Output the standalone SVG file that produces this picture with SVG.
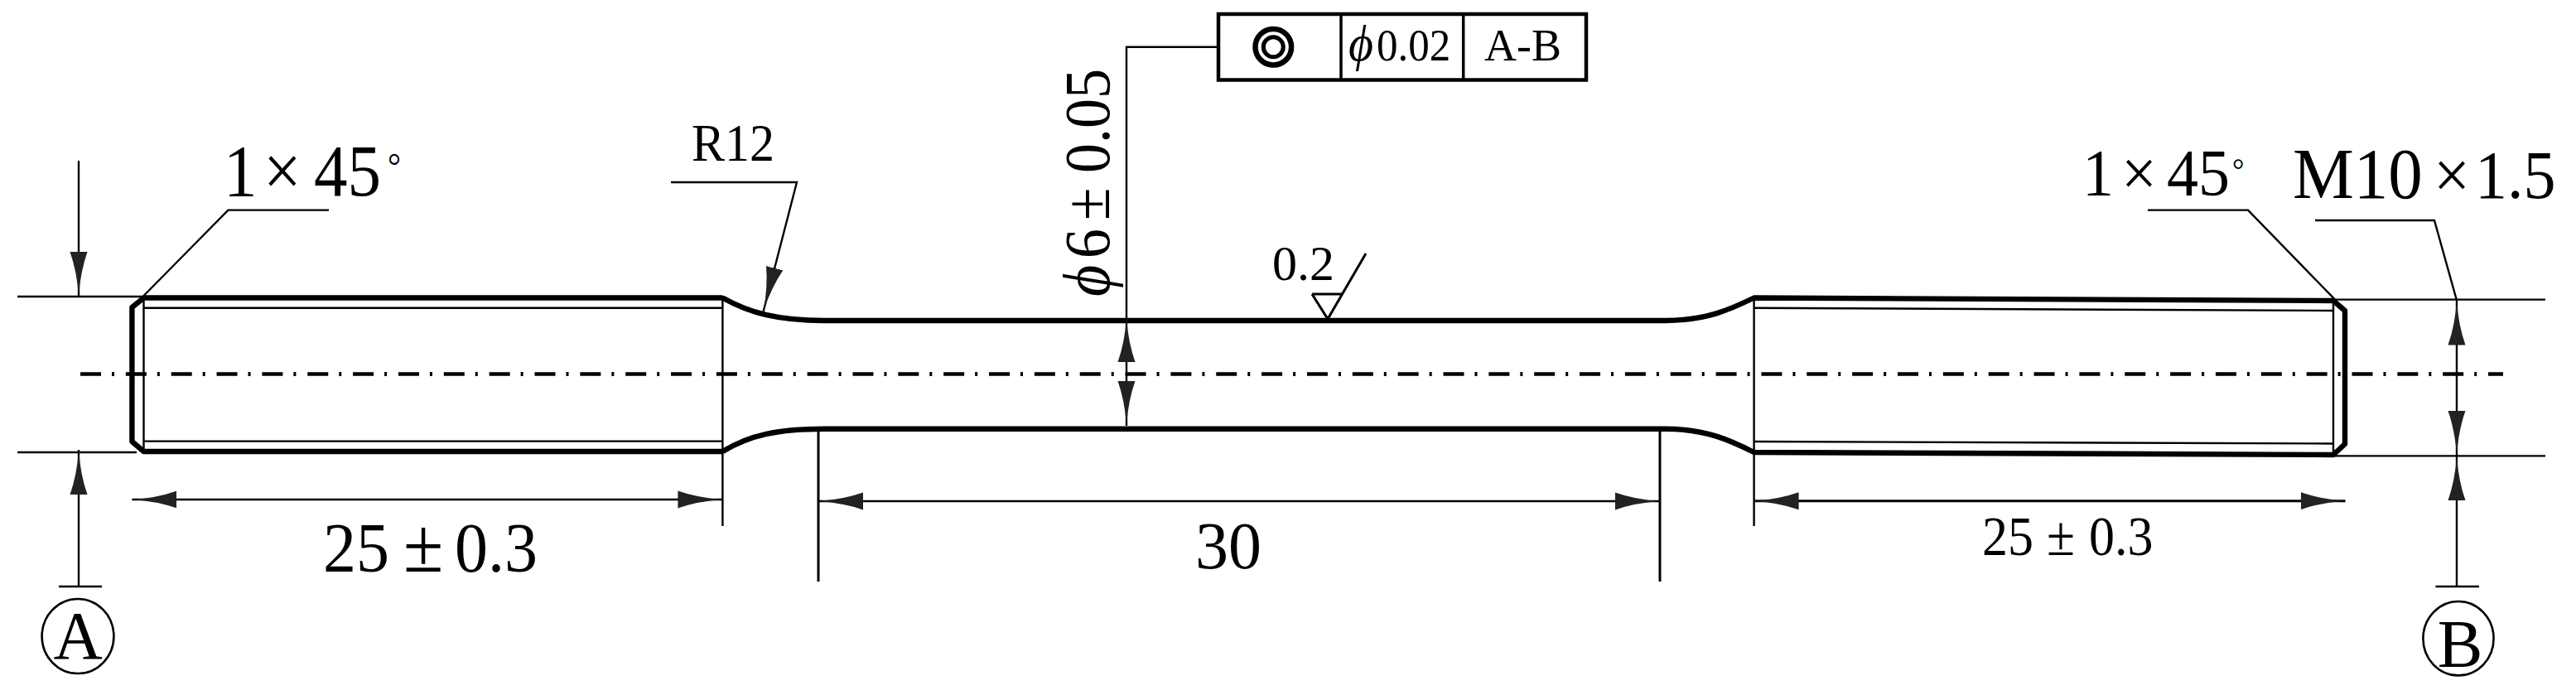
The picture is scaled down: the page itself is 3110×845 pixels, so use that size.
<svg xmlns="http://www.w3.org/2000/svg" width="3110" height="845" viewBox="0 0 3110 845">
<style>
text{font-family:"Liberation Serif","Times New Roman",serif;fill:#000}
.i{font-style:italic}
.thick{fill:none;stroke:#000;stroke-width:6.4;stroke-linejoin:round}
.thin{fill:none;stroke:#000;stroke-width:2.4}
.med{fill:none;stroke:#000;stroke-width:3}
.arr{marker-end:url(#head)}
.both{marker-start:url(#head);marker-end:url(#head)}
</style>
<defs>
<marker id="head" markerUnits="userSpaceOnUse" markerWidth="56" markerHeight="24" refX="54" refY="12" orient="auto-start-reverse">
<path d="M54,12 Q24,10 0,1.5 V22.5 Q24,14 54,12Z" fill="#222"/>
</marker>
</defs>
<rect width="3110" height="845" fill="#fff"/>
<g id="shaft">
<path class="thick" d="M872.4,359.5 H173.5 L159.4,371 V533 L173.5,545 H872.4"/>
<path class="thick" d="M872.4,359.5 C905,378 940,387 995,387 H2010 C2060,387 2090,373 2117.6,359.5 L2817,363 L2831,375 V536 L2817,549 L2117.6,546 C2090,532 2060,517.7 2010,517.7 H995 C940,517.7 905,525 872.4,545"/>
<path class="thin" d="M173.5,371.7 H872.4 M173.5,532.6 H872.4 M173.5,358 V545 M2117.6,371.7 L2817,375 M2117.6,533 L2817,535.5 M2817,362 V549"/>
</g>
<g id="centerline">
<path d="M97,451.5 H3022" fill="none" stroke="#000" stroke-width="4.5" stroke-dasharray="25 29.85"/>
<path d="M135,451.5 H3022" fill="none" stroke="#000" stroke-width="5" stroke-dasharray="3 51.85"/>
</g>
<g id="connectors">
<path class="thin" d="M21,358 H173 M21,546 H165 M2817,361.6 H3073 M2783.6,550.4 H3073"/>
<path class="thin" d="M872.4,357 V635 M2117.6,358 V635"/>
<path class="med" d="M988,520 V702 M2004,518 V702"/>
<path class="thin arr" d="M95,194 V358"/>
<path class="thin arr" d="M95,708 V543"/>
<path class="thin" d="M71,708 H123"/>
<path class="thin both" d="M159.4,603 H872.4"/>
<path class="thin both" d="M988,605 H2004"/>
<path class="med both" d="M2117.6,604.7 H2831.6"/>
<path class="thin" d="M173.5,357 L275.5,253.6 H397"/>
<path class="thin arr" d="M810,220 H962 L921.6,376"/>
<path class="thin" d="M1470,56.7 H1360 V383"/>
<path class="thin both" d="M1360,383 V514"/>
<path class="thin" d="M2593,253.6 H2714 L2819,361.6"/>
<path class="thin" d="M2795,266 H2939 L2966,362.6"/>
<path class="thin both" d="M2966,362.6 V550"/>
<path class="thin arr" d="M2966,708 V550"/>
<path class="thin" d="M2940.5,708 H2993"/>
</g>
<g id="frame">
<rect x="1471" y="17" width="444" height="79.5" fill="none" stroke="#000" stroke-width="4.5"/>
<path d="M1619,17 V96.5 M1766.7,17 V96.5" fill="none" stroke="#000" stroke-width="3.5"/>
<circle cx="1537.3" cy="56.7" r="21.8" fill="none" stroke="#000" stroke-width="6.5"/>
<circle cx="1537.3" cy="56.7" r="12" fill="none" stroke="#000" stroke-width="5"/>
<text transform="translate(1628,72.7) scale(1,1.06)" font-size="51"><tspan class="i" x="0" font-size="58">ϕ</tspan><tspan x="34">0.02</tspan></text>
<text x="1792" y="72.7" font-size="54">A-B</text>
</g>
<g id="label-chamfer-left"><text transform="translate(270,236) scale(1,1.1)" font-size="81"><tspan x="0">1</tspan><tspan x="48">×</tspan><tspan x="109">45</tspan><tspan x="198" y="-19" font-size="40" >°</tspan></text></g>
<g id="label-r12"><text transform="translate(835,194) scale(1,1.04)" font-size="60">R12</text></g>
<g id="label-25-left"><text transform="translate(390,689.5) scale(1,1.07)" font-size="80"><tspan x="0">25</tspan><tspan x="97" font-size="88">±</tspan><tspan x="159">0.3</tspan></text></g>
<g id="label-phi6"><text transform="translate(1339,354) rotate(-90) scale(1,1.1)" font-size="72"><tspan class="i" x="-4" font-size="74">ϕ</tspan><tspan x="42">6</tspan><tspan x="88">±</tspan><tspan x="145">0.05</tspan></text></g>
<g id="label-roughness">
<text x="1536" y="338" font-size="60">0.2</text>
<path class="med" d="M1584,355 H1621 M1584,355 L1603,385 L1649,306"/>
</g>
<g id="label-30"><text x="1443" y="686" font-size="80">30</text></g>
<g id="label-25-right"><text transform="translate(2393,670) scale(1,1.1)" font-size="62"><tspan x="0">25</tspan><tspan x="78" >±</tspan><tspan x="129">0.3</tspan></text></g>
<g id="label-chamfer-right"><text transform="translate(2514,236) scale(1,1.05)" font-size="76"><tspan x="0">1</tspan><tspan x="47">×</tspan><tspan x="102">45</tspan><tspan x="181" y="-17" font-size="36">°</tspan></text></g>
<g id="label-thread"><text transform="translate(2768,239.4) scale(1,1.05)" font-size="78"><tspan x="0" font-size="83">M10</tspan><tspan x="170">×</tspan><tspan x="220">1.5</tspan></text></g>
<g id="datum-a">
<ellipse cx="94" cy="768" rx="43.4" ry="45" fill="none" stroke="#000" stroke-width="2.6"/>
<text x="94" y="795" font-size="82" text-anchor="middle">A</text>
</g>
<g id="datum-b">
<ellipse cx="2968" cy="770.7" rx="42.6" ry="44.7" fill="none" stroke="#000" stroke-width="2.6"/>
<text x="2970" y="805" font-size="82" text-anchor="middle">B</text>
</g>
</svg>
